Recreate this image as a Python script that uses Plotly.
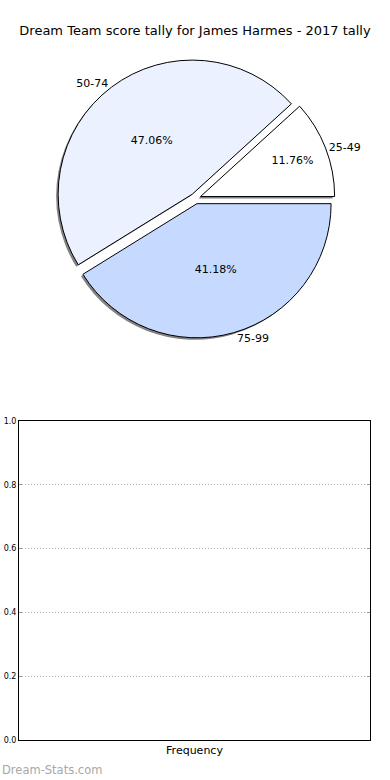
import plotly.graph_objects as go

# ---- data ----
score_bands = ["25-49", "50-74", "75-99"]
band_counts = [2, 8, 7]
band_colors = ["#ffffff", "#ebf1ff", "#c6d9ff"]
freq_categories = ["Frequency"]
freq_values = [None]
y_ticks = [0.0, 0.2, 0.4, 0.6, 0.8, 1.0]

W, H = 390, 780
FONT = "DejaVu Sans"

def px_x(p):
    return p / W

def px_y(p):
    return 1 - p / H

# counterclockwise from 3 o'clock: plotly rotation measured clockwise from 12
first_frac = band_counts[0] / sum(band_counts)
rot = 90 - 360 * first_frac

pull = [0.04, 0.04, 0.04]
cx, cy = 195.5, 198.5
half = 139.5  # -> radius = 2*half/(2*1.04) ~ 134
dom = dict(x=[px_x(cx - half), px_x(cx + half)], y=[px_y(cy + half), px_y(cy - half)])
sdx, sdy = -2, 2
shadow_dom = dict(x=[px_x(cx - half + sdx), px_x(cx + half + sdx)],
                  y=[px_y(cy + half + sdy), px_y(cy - half + sdy)])

fig = go.Figure()

# shadow
fig.add_trace(go.Pie(
    labels=score_bands, values=band_counts, sort=False,
    direction="counterclockwise", rotation=rot, pull=pull,
    marker=dict(colors=["rgba(90,90,90,0.75)"] * 3, line=dict(width=0)),
    textinfo="none", hoverinfo="skip", showlegend=False, domain=shadow_dom,
))
# main pie with percentages
fig.add_trace(go.Pie(
    labels=score_bands, values=band_counts, sort=False,
    direction="counterclockwise", rotation=rot, pull=pull,
    marker=dict(colors=band_colors, line=dict(color="#000000", width=1)),
    texttemplate="%{percent:.2%}", textposition="inside",
    insidetextorientation="horizontal",
    textfont=dict(family=FONT, size=11, color="#000000"),
    showlegend=False, domain=dom,
))
# outside labels
fig.add_trace(go.Pie(
    labels=score_bands, values=band_counts, sort=False,
    direction="counterclockwise", rotation=rot, pull=pull,
    marker=dict(colors=["rgba(0,0,0,0)"] * 3, line=dict(width=0)),
    textinfo="label", textposition="outside",
    outsidetextfont=dict(family=FONT, size=11, color="#000000"),
    hoverinfo="skip", showlegend=False, domain=dom,
))

# empty frequency chart
fig.add_trace(go.Scatter(
    x=freq_categories, y=freq_values, mode="markers",
    showlegend=False, xaxis="x", yaxis="y",
))

fig.update_layout(
    template="none",
    width=W, height=H,
    margin=dict(l=0, r=0, t=0, b=0, pad=0),
    paper_bgcolor="#ffffff", plot_bgcolor="#ffffff",
    font=dict(family=FONT, color="#000000"),
    title=dict(
        text="Dream Team score tally for James Harmes - 2017 tally",
        x=0.5, xanchor="center", y=px_y(30), yanchor="middle",
        font=dict(family=FONT, size=13, color="#000000"),
    ),
    xaxis=dict(
        domain=[px_x(19), px_x(370)], type="category",
        categoryarray=freq_categories, range=[-0.5, 0.5],
        showline=True, linecolor="#000000", linewidth=1, mirror=True,
        showgrid=False, zeroline=False, ticks="", automargin=False,
        tickfont=dict(family=FONT, size=11, color="#000000"),
        fixedrange=True,
    ),
    yaxis=dict(
        domain=[px_y(740), px_y(421)], range=[0, 1], automargin=False,
        tickvals=y_ticks, ticktext=[f"{v:.1f}" for v in y_ticks],
        showline=True, linecolor="#000000", linewidth=1, mirror="allticks",
        showgrid=True, gridcolor="#b0b0b0", griddash="1px,2px", gridwidth=1,
        zeroline=False, ticks="inside", ticklen=3, tickcolor="#999999",
        tickfont=dict(family=FONT, size=8, color="#000000"),
        fixedrange=True,
    ),
    annotations=[dict(
        text="Dream-Stats.com", x=0, y=px_y(770), xref="paper", yref="paper",
        xanchor="left", yanchor="middle", showarrow=False,
        font=dict(family=FONT, size=11.5, color="#a8a8a8"),
    )],
)

fig.write_html("out.html")
